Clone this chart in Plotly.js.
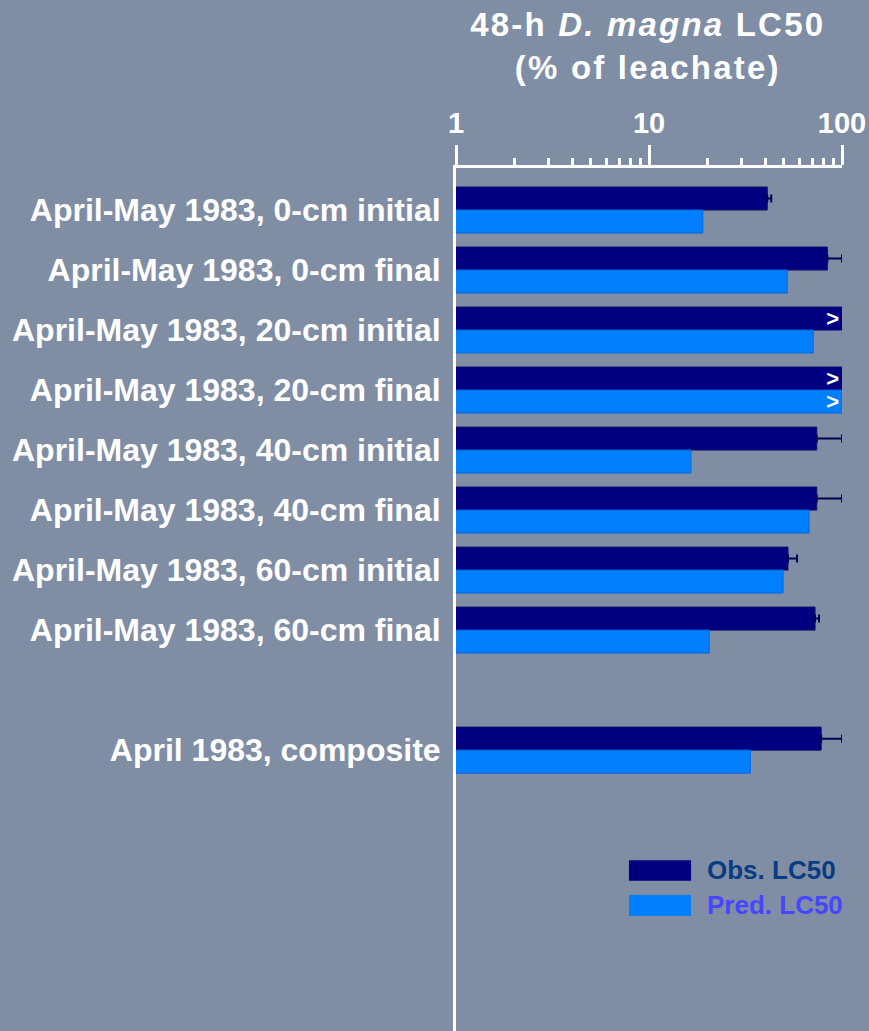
<!DOCTYPE html>
<html>
<head>
<meta charset="utf-8">
<script src="https://cdn.plot.ly/plotly-3.0.1.min.js"></script>
<style>html,body{margin:0;padding:0;background:#808ea5;}#chart{width:869px;height:1031px;}</style>
</head>
<body>
<div id="chart"></div>
<script>
// Categories (top to bottom); ' ' is an empty spacer row
const categories = [
  'April-May 1983, 0-cm initial',
  'April-May 1983, 0-cm final',
  'April-May 1983, 20-cm initial',
  'April-May 1983, 20-cm final',
  'April-May 1983, 40-cm initial',
  'April-May 1983, 40-cm final',
  'April-May 1983, 60-cm initial',
  'April-May 1983, 60-cm final',
  ' ',
  'April 1983, composite'
];
// 48-h D. magna LC50 (% of leachate)
const obsLC50   = [41, 84, 100, 100, 74, 74, 52.5, 72.5, null, 78];
const obsUpper  = [43, 100, 100, 100, 100, 100, 58.5, 76, null, 100];
const predLC50  = [19, 52, 71, 100, 16.5, 67.5, 49.5, 20.5, null, 33.5];
const obsMark   = ['', '', '>', '>', '', '', '', '', '', ''];
const predMark  = ['', '', '', '>', '', '', '', '', '', ''];
const xTickVals = [1, 10, 100];
const xTickText = ['1', '10', '100'];
const minorTickVals = [2,3,4,5,6,7,8,9,20,30,40,50,60,70,80,90];
const chartTitle = '<b>48-h <i>D. magna</i> LC50<br>(% of leachate)</b>';

const FONT = 'Liberation Sans, Arial, sans-serif';
const BG = '#808ea5';

const obsPlus = obsLC50.map((v, i) => v == null ? null : obsUpper[i] - v);

const traces = [
  {
    type: 'bar', orientation: 'h', name: 'Obs. LC50',
    y: categories, x: obsLC50,
    marker: {color: '#000080', line: {color: '#10106a', width: 1}},
    error_x: {type: 'data', symmetric: false, array: obsPlus,
              arrayminus: obsLC50.map(() => 0), color: '#000050', thickness: 2, width: 4},
    text: obsMark, textposition: 'inside', insidetextanchor: 'end', constraintext: 'none',
    textangle: 0,
    textfont: {color: 'white', size: 22, family: FONT, weight: 'bold'},
    hoverinfo: 'none', showlegend: false
  },
  {
    type: 'bar', orientation: 'h', name: 'Pred. LC50',
    y: categories, x: predLC50,
    marker: {color: '#0080ff', line: {color: '#0a66dd', width: 1}},
    text: predMark, textposition: 'inside', insidetextanchor: 'end', constraintext: 'none',
    textangle: 0,
    textfont: {color: 'white', size: 22, family: FONT, weight: 'bold'},
    hoverinfo: 'none', showlegend: false
  },
  {
    // carrier for the minor-tick axis
    type: 'scatter', mode: 'markers', x: [1], y: [categories[0]], xaxis: 'x2',
    marker: {opacity: 0}, hoverinfo: 'none', showlegend: false
  }
];

const layout = {
  width: 869, height: 1031,
  paper_bgcolor: BG, plot_bgcolor: BG,
  margin: {l: 456, r: 27, t: 168, b: 0, pad: 0},
  barmode: 'group', bargap: 0.233, bargroupgap: 0,
  showlegend: false,
  xaxis: {
    type: 'log', range: [0, 2], side: 'top',
    tickvals: xTickVals, ticktext: xTickText,
    ticks: 'outside', ticklen: 20, tickwidth: 3, tickcolor: 'white',
    showline: true, linewidth: 3, linecolor: 'white',
    showgrid: false, zeroline: false,
    tickfont: {family: FONT, size: 29, color: 'white', weight: 'bold'},
    ticklabelstandoff: 0, fixedrange: true
  },
  xaxis2: {
    type: 'log', range: [0, 2], side: 'top', overlaying: 'x',
    tickvals: minorTickVals, showticklabels: false,
    ticks: 'outside', ticklen: 9, tickwidth: 3, tickcolor: 'white',
    showline: false, showgrid: false, zeroline: false, fixedrange: true
  },
  yaxis: {
    type: 'category', categoryorder: 'array', categoryarray: categories,
    range: [13.68, -0.7],
    showline: true, linewidth: 3, linecolor: 'white', mirror: false,
    ticks: '', showgrid: false, zeroline: false,
    tickfont: {family: FONT, size: 32, color: 'white', weight: 'bold'},
    ticklabelstandoff: 6, fixedrange: true
  },
  shapes: [
    {type: 'rect', xref: 'paper', yref: 'paper', x0: 0.448, x1: 0.609, y0: 0.174, y1: 0.198,
     fillcolor: '#000080', line: {width: 0}},
    {type: 'rect', xref: 'paper', yref: 'paper', x0: 0.448, x1: 0.609, y0: 0.1333, y1: 0.1576,
     fillcolor: '#0080ff', line: {width: 0}}
  ],
  annotations: [
    {text: chartTitle, xref: 'paper', yref: 'paper', x: 0.495, y: 1 + 164 / 863,
     xanchor: 'center', yanchor: 'top', showarrow: false, align: 'center',
     font: {family: FONT, size: 33, color: 'white'}},
    {text: 'Obs. LC50', xref: 'paper', yref: 'paper', x: 0.645, y: 0.1866,
     xanchor: 'left', yanchor: 'middle', showarrow: false,
     font: {family: FONT, size: 26, color: '#0a3c84', weight: 'bold'}},
    {text: 'Pred. LC50', xref: 'paper', yref: 'paper', x: 0.645, y: 0.1455,
     xanchor: 'left', yanchor: 'middle', showarrow: false,
     font: {family: FONT, size: 26, color: '#4646ff', weight: 'bold'}}
  ]
};

Plotly.newPlot('chart', traces, layout, {staticPlot: true, displayModeBar: false}).then(function () {
  // the reference title is set wider than the plain font; widen it a little
  const t = document.querySelector('#chart .annotation-text');
  if (t) t.style.letterSpacing = '2.2px';
});
</script>
</body>
</html>
